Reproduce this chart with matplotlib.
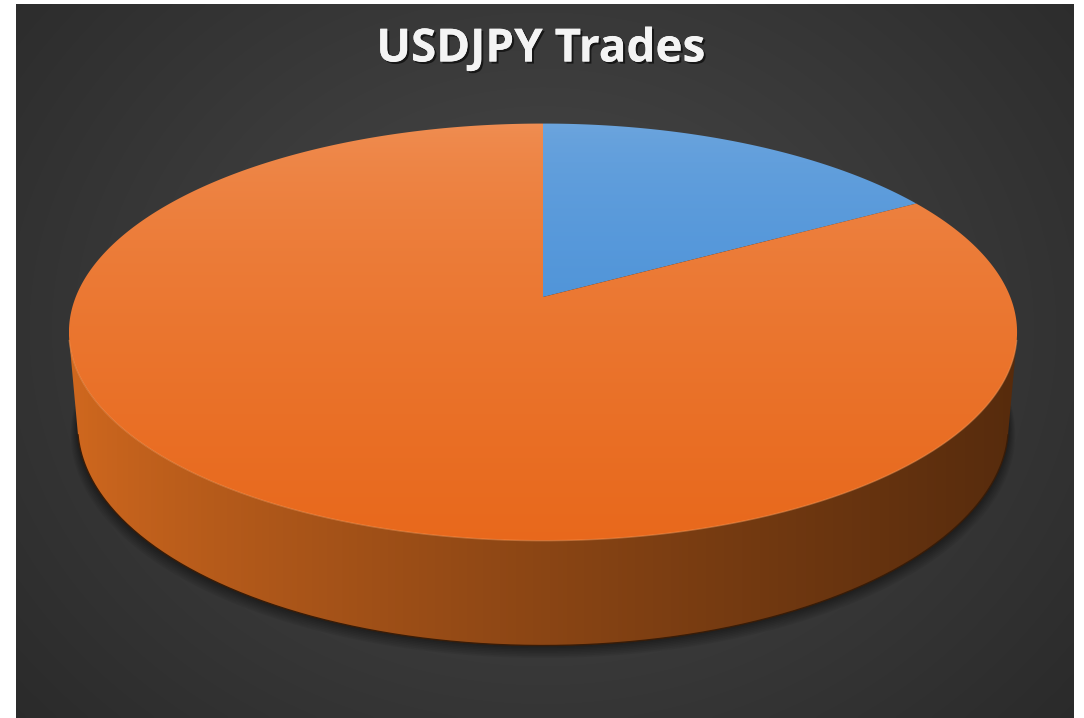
import numpy as np
import matplotlib
matplotlib.use("Agg")
import matplotlib.pyplot as plt
from matplotlib.patches import Polygon
import matplotlib.patheffects as pe

# ---- data ----
title = "USDJPY Trades"
categories = ["Winning trades", "Losing trades"]
values = [1, 5]
top_colors = [((0.43, 0.65, 0.87), (0.24, 0.54, 0.84)),   # blue: top -> bottom
              ((0.94, 0.56, 0.33), (0.91, 0.41, 0.11))]   # orange
side_colors = [((0.20, 0.40, 0.62), (0.10, 0.22, 0.38)),
               ((0.82, 0.41, 0.12), (0.34, 0.17, 0.05))]

# ---- geometry / camera ----
W, H = 1084, 718
phi = np.radians(25.7)
D = 5.35
S = 2500.0
cx, cy = 543.0, 297.0
depth_h = 0.222
cphi, sphi = np.cos(phi), np.sin(phi)


def proj(X, Y, Z):
    d = D + Y * cphi - Z * sphi
    xp = X / d
    yp = (Y * sphi + Z * cphi) / d
    return cx + S * xp, cy - S * yp


fig = plt.figure(figsize=(W / 100, H / 100), dpi=100)
fig.patch.set_facecolor("white")
ax = fig.add_axes([0, 0, 1, 1])
ax.set_xlim(0, W)
ax.set_ylim(H, 0)
ax.axis("off")

# ---- background radial gradient ----
bx0, bx1, by0, by1 = 16, 1074, 4, 718
gx, gy = np.meshgrid(np.linspace(bx0, bx1, 300), np.linspace(by0, by1, 220))
r = np.sqrt(((gx - 543) / 620) ** 2 + ((gy - 330) / 520) ** 2)
v = 0.29 - 0.13 * np.clip(r, 0, 1.2) / 1.2
bg = np.dstack([v, v, v])
ax.imshow(bg, extent=(bx0, bx1, by1, by0), zorder=0, interpolation="bicubic", aspect="auto")

# ---- shadow below pie ----
th = np.linspace(0, 2 * np.pi, 400)
for k in range(8):
    grow = 1.0 + 0.002 * k
    sx, sy = proj(np.sin(th) * grow, np.cos(th) * grow, -depth_h)
    sy = np.array(sy) + 1 + 1.0 * k
    ax.add_patch(Polygon(np.column_stack([sx, sy]), closed=True, fc="black",
                         ec="none", alpha=0.06, zorder=1))

# ---- slices ----
total = float(sum(values))
bounds = np.concatenate([[0], np.cumsum(values) / total * 360.0])
vis_lo = np.degrees(np.arccos(-1.0 / (D * cphi)))
vis_hi = 360.0 - vis_lo

for i in range(len(values)):
    a0, a1 = bounds[i], bounds[i + 1]
    # visible side
    lo, hi = max(a0, vis_lo), min(a1, vis_hi)
    if hi > lo:
        t = np.radians(np.linspace(lo, hi, 300))
        tx, ty = proj(np.sin(t), np.cos(t), 0.0)
        bxs, bys = proj(np.sin(t), np.cos(t), -depth_h)
        pts = np.column_stack([np.concatenate([tx, bxs[::-1]]),
                               np.concatenate([ty, bys[::-1]])])
        poly = Polygon(pts, closed=True, fc="none", ec="none", zorder=2)
        ax.add_patch(poly)
        c0, c1 = np.array(side_colors[i][0]), np.array(side_colors[i][1])
        xs = np.linspace(0, 1, 400)
        f = xs ** 0.8
        grad = (c0[None, :] * (1 - f[:, None]) + c1[None, :] * f[:, None])[None, :, :]
        im = ax.imshow(grad, extent=(pts[:, 0].min(), pts[:, 0].max(),
                                     pts[:, 1].max(), pts[:, 1].min()),
                       zorder=2, aspect="auto", interpolation="bilinear")
        im.set_clip_path(poly)
        ax.plot(bxs, bys, color=(0.22, 0.11, 0.03), lw=1.0, zorder=2.5)
    # top face
    t = np.radians(np.linspace(a0, a1, 400))
    tx, ty = proj(np.sin(t), np.cos(t), 0.0)
    ccx, ccy = proj(0.0, 0.0, 0.0)
    pts = np.column_stack([np.concatenate([[ccx], tx]), np.concatenate([[ccy], ty])])
    poly = Polygon(pts, closed=True, fc="none", ec="none", zorder=3)
    ax.add_patch(poly)
    c0, c1 = np.array(top_colors[i][0]), np.array(top_colors[i][1])
    ys = np.linspace(0, 1, 300) ** 0.6
    grad = (c0[None, :] * (1 - ys[:, None]) + c1[None, :] * ys[:, None])[:, None, :]
    tx_all, ty_all = proj(np.sin(th), np.cos(th), 0.0)
    im = ax.imshow(grad, extent=(min(tx_all), max(tx_all), max(ty_all), min(ty_all)),
                   zorder=3, aspect="auto", interpolation="bilinear")
    im.set_clip_path(poly)

# subtle highlight where top meets side
t = np.radians(np.linspace(vis_lo, vis_hi, 300))
tx, ty = proj(np.sin(t), np.cos(t), 0.0)
ax.plot(tx, ty, color=(1.0, 0.62, 0.35), lw=1.0, alpha=0.45, zorder=3.5)

# ---- title ----
ax.text(541, 49, title, ha="center", va="center", fontsize=33, fontweight="bold",
        family=["Open Sans", "DejaVu Sans"], color="#f4f4f4", zorder=5,
        path_effects=[pe.withSimplePatchShadow(offset=(1.5, -1.5), shadow_rgbFace="black", alpha=0.6),
                      pe.Normal()])

fig.savefig("out.png", dpi=100, facecolor=fig.get_facecolor())
